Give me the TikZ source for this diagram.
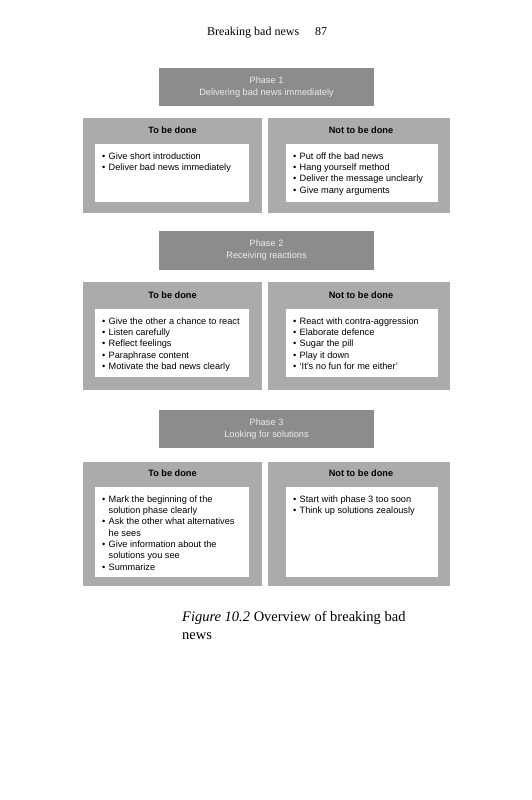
\documentclass[tikz,border=0pt]{standalone}
\usepackage{fontspec}
\setmainfont{Liberation Serif}
\setsansfont{Liberation Sans}
\usetikzlibrary{positioning}
\definecolor{phasegray}{HTML}{8C8C8C}
\definecolor{panelgray}{HTML}{ABABAB}
\definecolor{phasetext}{HTML}{ECECEC}
\newcommand{\bitem}{\par\hangindent=6.5pt\hangafter=1\noindent\makebox[6.5pt][l]{\textbullet}}
\newcommand{\itemlist}[3]{\parbox[t][#2][t]{#1}{\leftskip=7pt\rightskip=0pt plus 1fil\baselineskip=11.3pt\vspace*{8.5pt}#3}}

\begin{document}
\begin{tikzpicture}[x=1pt,y=-1pt,
    phase/.style={fill=phasegray,text=phasetext,minimum width=215pt,minimum height=38pt,align=center,
      font=\sffamily\fontsize{9.2}{12}\selectfont},
    panel/.style={fill=panelgray,minimum width=179pt,inner sep=0},
    heading/.style={inner sep=0,font=\sffamily\bfseries\fontsize{9.2}{11}\selectfont},
    listbox/.style={fill=white,inner sep=0,anchor=north west,font=\sffamily\fontsize{9.2}{11.3}\selectfont},
    caption/.style={anchor=base west,inner sep=0,font=\fontsize{14.5}{18}\selectfont}]
  \useasboundingbox (0,0) rectangle (531,800);
  \node[anchor=base west,inner sep=0,font=\fontsize{12}{14}\selectfont] (head) at (207,36) {Breaking bad news\hspace{16pt}87};

  \node[phase] (ph1) at (266.5,87) {Phase 1\\Delivering bad news immediately};
  \node[panel,minimum height=95pt] (do1) at (172.5,165.5) {};
  \node[panel,minimum height=95pt,minimum width=182pt] (dont1) at (359,165.5) {};
  \node[heading] (hdo1) at (172.5,130) {To be done};
  \node[heading] (hdont1) at (361,130) {Not to be done};
  \node[listbox] (ldo1) at (95,144) {\itemlist{154pt}{58pt}{%
    \bitem Give short introduction
    \bitem Deliver bad news immediately}};
  \node[listbox] (ldont1) at (286,144) {\itemlist{152pt}{58pt}{%
    \bitem Put off the bad news
    \bitem Hang yourself method
    \bitem Deliver the message unclearly
    \bitem Give many arguments}};

  \node[phase,minimum height=39pt] (ph2) at (266.5,250.5) {Phase 2\\Receiving reactions};
  \node[panel,minimum height=108pt] (do2) at (172.5,336) {};
  \node[panel,minimum height=108pt,minimum width=182pt] (dont2) at (359,336) {};
  \node[heading] (hdo2) at (172.5,295) {To be done};
  \node[heading] (hdont2) at (361,295) {Not to be done};
  \node[listbox] (ldo2) at (95,309) {\itemlist{154pt}{68pt}{%
    \bitem Give the other a chance to react
    \bitem Listen carefully
    \bitem Reflect feelings
    \bitem Paraphrase content
    \bitem Motivate the bad news clearly}};
  \node[listbox] (ldont2) at (286,309) {\itemlist{152pt}{68pt}{%
    \bitem React with contra-aggression
    \bitem Elaborate defence
    \bitem Sugar the pill
    \bitem Play it down
    \bitem `It's no fun for me either'}};

  \node[phase] (ph3) at (266.5,429) {Phase 3\\Looking for solutions};
  \node[panel,minimum height=124pt] (do3) at (172.5,524) {};
  \node[panel,minimum height=124pt,minimum width=182pt] (dont3) at (359,524) {};
  \node[heading] (hdo3) at (172.5,473) {To be done};
  \node[heading] (hdont3) at (361,473) {Not to be done};
  \node[listbox] (ldo3) at (95,487) {\itemlist{154pt}{90pt}{%
    \bitem Mark the beginning of the\\solution phase clearly
    \bitem Ask the other what alternatives\\he sees
    \bitem Give information about the\\solutions you see
    \bitem Summarize}};
  \node[listbox] (ldont3) at (286,487) {\itemlist{152pt}{90pt}{%
    \bitem Start with phase 3 too soon
    \bitem Think up solutions zealously}};

  \node[caption] (cap) at (182,621.7) {\parbox[t]{240pt}{\raggedright\textit{Figure 10.2} Overview of breaking bad news}};
\end{tikzpicture}
\end{document}
